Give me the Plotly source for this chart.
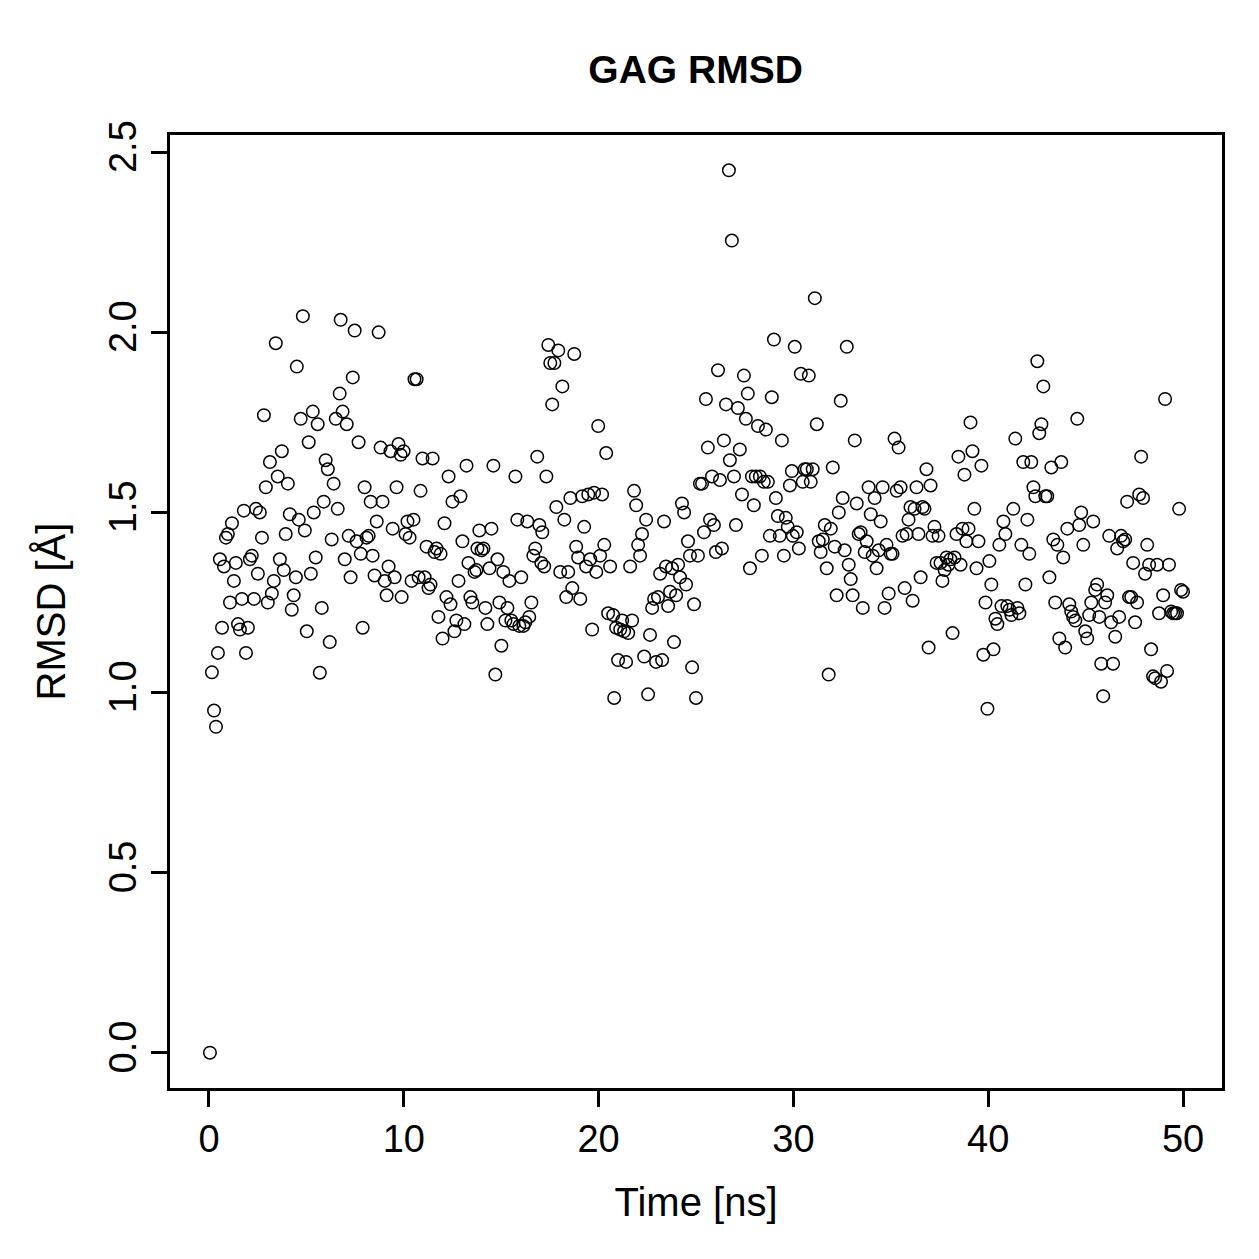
import plotly.graph_objects as go

time_ns = [
    0.05, 0.15, 0.26, 0.36, 0.46, 0.56, 0.67, 0.77, 0.87, 0.97,
    1.08, 1.18, 1.28, 1.38, 1.49, 1.59, 1.69, 1.79, 1.90, 2.00,
    2.10, 2.20, 2.31, 2.41, 2.51, 2.61, 2.72, 2.82, 2.92, 3.02,
    3.13, 3.23, 3.33, 3.43, 3.53, 3.64, 3.74, 3.84, 3.94, 4.05,
    4.15, 4.25, 4.35, 4.46, 4.51, 4.61, 4.71, 4.82, 4.92, 5.02,
    5.12, 5.23, 5.33, 5.38, 5.48, 5.58, 5.69, 5.79, 5.89, 5.99,
    6.10, 6.20, 6.30, 6.40, 6.51, 6.61, 6.71, 6.76, 6.86, 6.97,
    7.07, 7.17, 7.27, 7.38, 7.48, 7.58, 7.68, 7.79, 7.89, 7.99,
    8.09, 8.20, 8.30, 8.40, 8.50, 8.61, 8.71, 8.81, 8.91, 9.02,
    9.12, 9.22, 9.32, 9.43, 9.53, 9.63, 9.73, 9.84, 9.89, 9.99,
    10.09, 10.19, 10.30, 10.40, 10.50, 10.55, 10.66, 10.76, 10.86, 10.96,
    11.07, 11.17, 11.27, 11.37, 11.48, 11.58, 11.68, 11.78, 11.89, 11.99,
    12.09, 12.19, 12.30, 12.40, 12.50, 12.60, 12.70, 12.81, 12.91, 13.01,
    13.11, 13.22, 13.32, 13.42, 13.52, 13.63, 13.73, 13.78, 13.88, 13.99,
    14.09, 14.19, 14.29, 14.40, 14.50, 14.60, 14.70, 14.81, 14.91, 15.01,
    15.11, 15.22, 15.32, 15.42, 15.52, 15.63, 15.73, 15.83, 15.93, 16.03,
    16.14, 16.24, 16.34, 16.44, 16.55, 16.65, 16.75, 16.85, 16.96, 17.06,
    17.11, 17.21, 17.32, 17.42, 17.52, 17.62, 17.73, 17.83, 17.93, 18.03,
    18.14, 18.24, 18.34, 18.44, 18.55, 18.65, 18.75, 18.85, 18.95, 19.06,
    19.16, 19.26, 19.36, 19.47, 19.57, 19.67, 19.77, 19.88, 19.98, 20.08,
    20.18, 20.29, 20.39, 20.49, 20.59, 20.75, 20.80, 20.90, 21.00, 21.11,
    21.21, 21.31, 21.41, 21.52, 21.62, 21.72, 21.82, 21.93, 22.03, 22.13,
    22.23, 22.34, 22.44, 22.54, 22.64, 22.75, 22.85, 22.95, 23.05, 23.16,
    23.26, 23.36, 23.46, 23.57, 23.67, 23.77, 23.87, 23.98, 24.08, 24.18,
    24.28, 24.39, 24.49, 24.59, 24.69, 24.80, 24.90, 25.00, 25.10, 25.20,
    25.31, 25.41, 25.51, 25.61, 25.72, 25.82, 25.92, 26.02, 26.13, 26.23,
    26.33, 26.43, 26.54, 26.69, 26.74, 26.84, 26.95, 27.05, 27.15, 27.25,
    27.36, 27.46, 27.56, 27.66, 27.77, 27.87, 27.97, 28.07, 28.18, 28.28,
    28.38, 28.48, 28.59, 28.69, 28.79, 28.89, 29.00, 29.10, 29.20, 29.30,
    29.41, 29.51, 29.61, 29.71, 29.82, 29.92, 29.97, 30.07, 30.17, 30.28,
    30.38, 30.48, 30.58, 30.69, 30.79, 30.89, 30.99, 31.10, 31.20, 31.30,
    31.40, 31.51, 31.61, 31.71, 31.81, 31.92, 32.02, 32.12, 32.22, 32.33,
    32.43, 32.53, 32.63, 32.74, 32.84, 32.94, 33.04, 33.15, 33.25, 33.35,
    33.45, 33.56, 33.66, 33.76, 33.86, 33.97, 34.07, 34.17, 34.27, 34.38,
    34.48, 34.58, 34.68, 34.78, 34.89, 34.99, 35.09, 35.19, 35.30, 35.40,
    35.50, 35.60, 35.71, 35.81, 35.91, 36.01, 36.12, 36.22, 36.32, 36.42,
    36.53, 36.63, 36.73, 36.83, 36.94, 37.04, 37.14, 37.24, 37.35, 37.45,
    37.55, 37.65, 37.76, 37.86, 37.96, 38.06, 38.17, 38.27, 38.37, 38.47,
    38.58, 38.68, 38.78, 38.88, 38.99, 39.09, 39.19, 39.29, 39.40, 39.50,
    39.65, 39.75, 39.86, 39.96, 40.06, 40.16, 40.27, 40.37, 40.47, 40.57,
    40.68, 40.78, 40.88, 40.98, 41.09, 41.19, 41.29, 41.39, 41.50, 41.60,
    41.70, 41.80, 41.91, 42.01, 42.11, 42.21, 42.32, 42.42, 42.52, 42.62,
    42.73, 42.83, 42.93, 43.03, 43.14, 43.24, 43.34, 43.44, 43.55, 43.65,
    43.75, 43.85, 43.95, 44.06, 44.16, 44.26, 44.36, 44.47, 44.57, 44.67,
    44.77, 44.88, 44.98, 45.08, 45.18, 45.29, 45.39, 45.49, 45.59, 45.70,
    45.80, 45.90, 46.00, 46.11, 46.21, 46.31, 46.41, 46.52, 46.62, 46.72,
    46.82, 46.93, 47.03, 47.13, 47.23, 47.34, 47.44, 47.54, 47.64, 47.75,
    47.85, 47.95, 48.05, 48.16, 48.26, 48.36, 48.46, 48.57, 48.67, 48.77,
    48.87, 48.98, 49.08, 49.18, 49.28, 49.39, 49.49, 49.59, 49.69, 49.80,
    49.90, 50.00,
]

rmsd = [
    0.000, 1.056, 0.950, 0.905, 1.110, 1.370, 1.180, 1.350, 1.430, 1.440,
    1.250, 1.470, 1.310, 1.360, 1.190, 1.175, 1.260, 1.505, 1.110, 1.180,
    1.370, 1.380, 1.260, 1.510, 1.330, 1.500, 1.430, 1.770, 1.570, 1.250,
    1.640, 1.275, 1.310, 1.970, 1.600, 1.370, 1.670, 1.340, 1.440, 1.580,
    1.495, 1.230, 1.270, 1.320, 1.905, 1.480, 1.760, 2.045, 1.450, 1.170,
    1.695, 1.330, 1.780, 1.500, 1.375, 1.745, 1.055, 1.235, 1.530, 1.645,
    1.620, 1.140, 1.425, 1.580, 1.760, 1.510, 1.830, 2.035, 1.780, 1.370,
    1.745, 1.435, 1.320, 1.875, 2.005, 1.420, 1.695, 1.385, 1.180, 1.570,
    1.430, 1.435, 1.530, 1.380, 1.325, 1.475, 2.000, 1.680, 1.530, 1.310,
    1.270, 1.350, 1.670, 1.455, 1.320, 1.570, 1.690, 1.660, 1.265, 1.670,
    1.440, 1.475, 1.430, 1.310, 1.480, 1.870, 1.870, 1.320, 1.560, 1.650,
    1.320, 1.405, 1.290, 1.300, 1.650, 1.390, 1.400, 1.210, 1.385, 1.150,
    1.470, 1.265, 1.600, 1.245, 1.530, 1.170, 1.200, 1.310, 1.545, 1.420,
    1.190, 1.630, 1.360, 1.265, 1.250, 1.335, 1.340, 1.400, 1.450, 1.395,
    1.400, 1.235, 1.190, 1.345, 1.455, 1.630, 1.050, 1.370, 1.250, 1.130,
    1.335, 1.200, 1.235, 1.310, 1.200, 1.190, 1.600, 1.480, 1.185, 1.320,
    1.185, 1.195, 1.475, 1.210, 1.250, 1.380, 1.400, 1.655, 1.465, 1.360,
    1.445, 1.350, 1.600, 1.965, 1.915, 1.800, 1.915, 1.515, 1.950, 1.335,
    1.850, 1.480, 1.265, 1.335, 1.540, 1.290, 1.940, 1.405, 1.375, 1.260,
    1.545, 1.460, 1.350, 1.550, 1.370, 1.175, 1.555, 1.335, 1.740, 1.380,
    1.550, 1.410, 1.665, 1.220, 1.350, 1.215, 0.985, 1.180, 1.090, 1.175,
    1.200, 1.170, 1.085, 1.165, 1.350, 1.200, 1.560, 1.520, 1.410, 1.380,
    1.440, 1.100, 1.480, 0.995, 1.160, 1.235, 1.260, 1.085, 1.265, 1.330,
    1.090, 1.475, 1.350, 1.240, 1.280, 1.345, 1.140, 1.270, 1.355, 1.320,
    1.525, 1.500, 1.300, 1.420, 1.380, 1.070, 1.245, 0.985, 1.380, 1.580,
    1.580, 1.445, 1.815, 1.680, 1.480, 1.600, 1.465, 1.390, 1.895, 1.590,
    1.400, 1.700, 1.800, 2.450, 1.645, 2.255, 1.600, 1.465, 1.790, 1.675,
    1.550, 1.880, 1.760, 1.830, 1.345, 1.600, 1.520, 1.600, 1.740, 1.600,
    1.380, 1.585, 1.730, 1.585, 1.435, 1.820, 1.980, 1.540, 1.490, 1.435,
    1.700, 1.380, 1.485, 1.460, 1.575, 1.615, 1.435, 1.960, 1.445, 1.400,
    1.885, 1.585, 1.620, 1.620, 1.880, 1.585, 1.620, 2.095, 1.745, 1.420,
    1.390, 1.425, 1.465, 1.345, 1.050, 1.455, 1.625, 1.405, 1.270, 1.500,
    1.810, 1.540, 1.395, 1.960, 1.355, 1.315, 1.270, 1.700, 1.525, 1.440,
    1.445, 1.235, 1.390, 1.420, 1.570, 1.495, 1.380, 1.540, 1.345, 1.395,
    1.475, 1.570, 1.235, 1.410, 1.275, 1.385, 1.385, 1.705, 1.560, 1.680,
    1.570, 1.435, 1.290, 1.440, 1.480, 1.515, 1.255, 1.510, 1.570, 1.440,
    1.320, 1.515, 1.510, 1.620, 1.125, 1.575, 1.435, 1.460, 1.360, 1.435,
    1.360, 1.310, 1.340, 1.375, 1.355, 1.370, 1.165, 1.375, 1.440, 1.655,
    1.355, 1.455, 1.605, 1.420, 1.455, 1.750, 1.670, 1.510, 1.345, 1.420,
    1.630, 1.105, 1.250, 0.955, 1.365, 1.300, 1.120, 1.205, 1.190, 1.410,
    1.240, 1.475, 1.440, 1.240, 1.230, 1.215, 1.510, 1.705, 1.235, 1.220,
    1.410, 1.640, 1.300, 1.480, 1.385, 1.640, 1.570, 1.545, 1.920, 1.720,
    1.745, 1.850, 1.545, 1.545, 1.320, 1.625, 1.425, 1.250, 1.410, 1.150,
    1.640, 1.375, 1.125, 1.455, 1.245, 1.225, 1.210, 1.200, 1.760, 1.465,
    1.500, 1.410, 1.170, 1.150, 1.215, 1.250, 1.475, 1.285, 1.300, 1.210,
    1.080, 0.990, 1.250, 1.270, 1.435, 1.195, 1.080, 1.155, 1.400, 1.210,
    1.435, 1.420, 1.425, 1.530, 1.265, 1.265, 1.360, 1.195, 1.250, 1.550,
    1.655, 1.540, 1.330, 1.410, 1.355, 1.120, 1.045, 1.040, 1.355, 1.220,
    1.030, 1.270, 1.815, 1.060, 1.355, 1.225, 1.220, 1.220, 1.220, 1.510,
    1.285, 1.280,
]

x_ticks = [0, 10, 20, 30, 40, 50]
y_ticks = [0.0, 0.5, 1.0, 1.5, 2.0, 2.5]
y_tick_labels = ["0.0", "0.5", "1.0", "1.5", "2.0", "2.5"]

FONT = "Liberation Sans, Arial, Helvetica, sans-serif"

fig = go.Figure()
fig.add_trace(go.Scatter(
    x=time_ns, y=rmsd, mode="markers",
    marker=dict(symbol="circle-open", size=12.5, color="black",
                line=dict(width=1.5, color="black")),
    showlegend=False, hoverinfo="x+y",
))

axis_common = dict(
    showgrid=False, zeroline=False,
    showline=True, mirror=True, linecolor="black", linewidth=2.5,
    ticks="outside", ticklen=16, tickwidth=2.5, tickcolor="black",
    tickfont=dict(family=FONT, size=38, color="black"),
)

fig.update_layout(
    width=1259, height=1259,
    margin=dict(l=170, r=37, t=135, b=171),
    paper_bgcolor="white", plot_bgcolor="white",
    font=dict(family=FONT, color="black"),
    title=dict(text="<b>GAG RMSD</b>", x=0.5525, xanchor="center",
               y=0.945, yanchor="middle",
               font=dict(family=FONT, size=39, color="black")),
    xaxis=dict(
        range=[-2, 52], tickvals=x_ticks,
        ticktext=[str(v) for v in x_ticks],
        title=dict(text="Time [ns]", standoff=29,
                   font=dict(family=FONT, size=40, color="black")),
        **axis_common,
    ),
    yaxis=dict(
        range=[-0.098, 2.548], tickvals=y_ticks, ticktext=y_tick_labels,
        tickangle=-90,
        title=dict(text="RMSD [Å]", standoff=25,
                   font=dict(family=FONT, size=40, color="black")),
        **axis_common,
    ),
)

fig.write_html("out.html")
